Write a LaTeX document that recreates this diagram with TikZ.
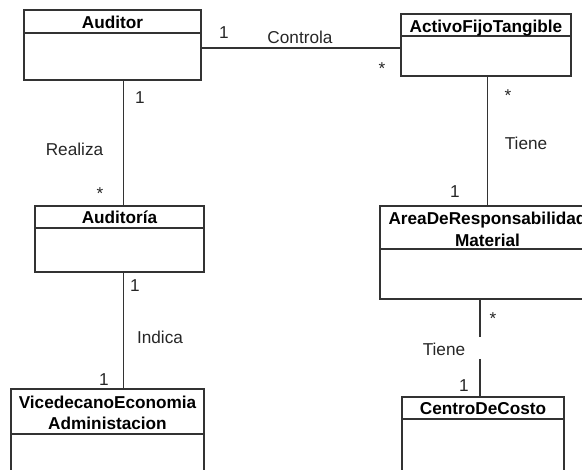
\documentclass[tikz,border=0pt]{standalone}
\usepackage{fontspec}
\setmainfont{Liberation Sans}
\definecolor{boxline}{HTML}{333333}
\begin{document}
\begin{tikzpicture}[x=1pt,y=-1pt,
  cls/.style={draw=boxline, line width=1.1pt, anchor=north west, inner sep=0pt, outer sep=0pt},
  hdr/.style={font=\bfseries\fontsize{17.2}{20}\selectfont, inner sep=0pt, text height=12.3pt, text depth=0pt},
  lbl/.style={font=\fontsize{17.2}{20}\selectfont, inner sep=0pt, text height=12.3pt, text depth=0pt, text=black!85},
  assoc/.style={draw=boxline, line width=1.1pt}]
\useasboundingbox (0,0) rectangle (582,470);
\clip (0,0) rectangle (582,470);

% class boxes
\node[cls, minimum width=177pt, minimum height=70pt] (auditor) at (24,10) {};
\node[cls, minimum width=170pt, minimum height=62pt] (activo) at (401,14) {};
\node[cls, minimum width=169pt, minimum height=66pt] (auditoria) at (35,206) {};
\node[cls, minimum width=215pt, minimum height=93pt] (area) at (380,206) {};
\node[cls, minimum width=193pt, minimum height=100pt] (vice) at (11,389) {};
\node[cls, minimum width=162pt, minimum height=90pt] (centro) at (402,397) {};

% compartment separators
\draw[assoc] (auditor.west |- 0,33) -- (auditor.east |- 0,33);
\draw[assoc] (activo.west |- 0,36) -- (activo.east |- 0,36);
\draw[assoc] (auditoria.west |- 0,228) -- (auditoria.east |- 0,228);
\draw[assoc] (area.west |- 0,249) -- (area.east |- 0,249);
\draw[assoc] (vice.west |- 0,434) -- (vice.east |- 0,434);
\draw[assoc] (centro.west |- 0,419) -- (centro.east |- 0,419);

% class names
\node[hdr] (auditorT) at (112.5,22.5) {Auditor};
\node[hdr] (activoT) at (486,26) {ActivoFijoTangible};
\node[hdr] (auditoriaT) at (119.5,217) {Auditoría};
\node[hdr] (areaT1) at (487.5,218) {AreaDeResponsabilidad};
\node[hdr] (areaT2) at (487.5,240.5) {Material};
\node[hdr] (viceT1) at (107.5,402.5) {VicedecanoEconomia};
\node[hdr] (viceT2) at (107.5,423) {Administacion};
\node[hdr] (centroT) at (483,408.5) {CentroDeCosto};

% associations
\draw[assoc] (auditor.east |- 0,48) -- (activo.west |- 0,48);
\draw[assoc] (auditor.south -| 123.5,0) -- (auditoria.north -| 123.5,0);
\draw[assoc] (auditoria.south -| 123.5,0) -- (vice.north -| 123.5,0);
\draw[assoc] (activo.south -| 487.5,0) -- (area.north -| 487.5,0);
\coordinate (gapTop) at (480,337);
\coordinate (gapBot) at (480,359);
\draw[assoc] (area.south -| gapTop) -- (gapTop);
\draw[assoc] (gapBot) -- (centro.north -| gapBot);

% association names and multiplicities
\node[lbl] (m1) at (224,32) {1};
\node[lbl] (controla) at (300,37) {Controla};
\node[lbl] (m2) at (382,68.5) {*};

\node[lbl] (m3) at (140,97) {1};
\node[lbl] (realiza) at (74.5,149) {Realiza};
\node[lbl] (m4) at (100,193.5) {*};

\node[lbl] (m5) at (135,285) {1};
\node[lbl] (indica) at (160,337) {Indica};
\node[lbl] (m6) at (104,379) {1};

\node[lbl] (m7) at (508,95.5) {*};
\node[lbl] (tiene1) at (526,143) {Tiene};
\node[lbl] (m8) at (455,191) {1};

\node[lbl] (m9) at (493,318.5) {*};
\node[lbl] (tiene2) at (444,349) {Tiene};
\node[lbl] (m10) at (464,385) {1};
\end{tikzpicture}
\end{document}
